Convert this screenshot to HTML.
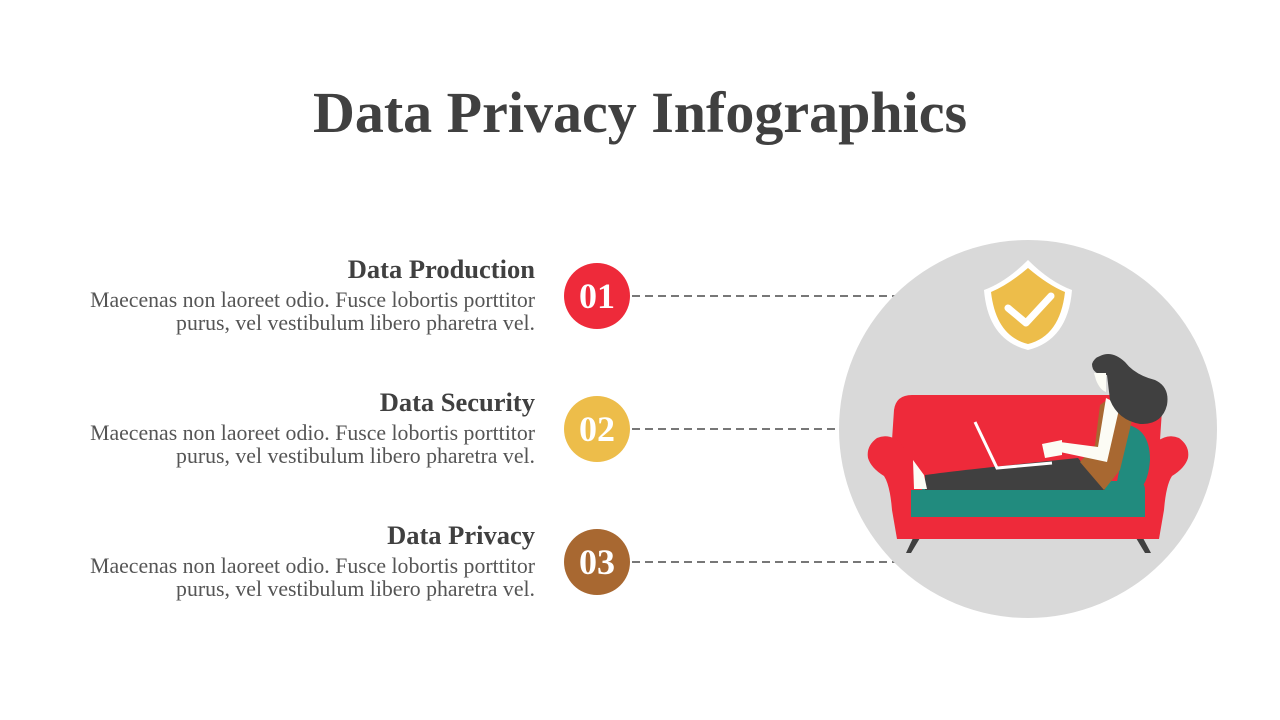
<!DOCTYPE html>
<html><head><meta charset="utf-8"><style>
body{margin:0;width:1280px;height:720px;background:#fff;position:relative;overflow:hidden;font-family:"Liberation Serif",serif;color:#404040}
h1{position:absolute;top:80px;left:0;width:1280px;text-align:center;margin:0;font-size:58px;font-weight:bold;line-height:66px;color:#404040}
.blk{position:absolute;right:745px;width:600px;text-align:right}
.blk h2{margin:0;font-size:26.5px;line-height:30px;font-weight:bold}
.blk p{margin:5px 0 0;font-size:21.8px;line-height:23px;color:#555}
.c{position:absolute;width:66px;height:66px;border-radius:50%;color:#fff;font-weight:bold;font-size:36px;line-height:66px;text-align:center;left:564px}
</style></head><body>
<h1>Data Privacy Infographics</h1>
<div class="blk" style="top:254px"><h2>Data Production</h2><p>Maecenas non laoreet odio. Fusce lobortis porttitor<br>purus, vel vestibulum libero pharetra vel.</p></div>
<div class="blk" style="top:387px"><h2>Data Security</h2><p>Maecenas non laoreet odio. Fusce lobortis porttitor<br>purus, vel vestibulum libero pharetra vel.</p></div>
<div class="blk" style="top:520px"><h2>Data Privacy</h2><p>Maecenas non laoreet odio. Fusce lobortis porttitor<br>purus, vel vestibulum libero pharetra vel.</p></div>
<div class="c" style="top:263px;background:#EE2A3A">01</div>
<div class="c" style="top:396px;background:#EDBD4A">02</div>
<div class="c" style="top:529px;background:#A86831">03</div>
<svg width="1280" height="720" style="position:absolute;left:0;top:0">
<g stroke="#777" stroke-width="2" stroke-dasharray="8,5">
<line x1="632" y1="296" x2="895" y2="296"/><line x1="632" y1="429" x2="840" y2="429"/><line x1="632" y1="562" x2="895" y2="562"/></g>
<circle cx="1028" cy="429" r="189" fill="#D9D9D9"/>
<path d="M1028 260 Q1050 282 1072 290 Q1068 340 1028 350 Q988 340 984 290 Q1006 282 1028 260Z" fill="#fff"/>
<path d="M1028 268 Q1048 285 1065 292 Q1060 336 1028 344 Q996 336 991 292 Q1008 285 1028 268Z" fill="#EDBD4A"/>
<path d="M1008 308 L1026 323 L1051 296" stroke="#fff" stroke-width="7" fill="none" stroke-linecap="round" stroke-linejoin="round"/>
<path d="M906 553 L913 538 L920 538 L911 553Z M1151 553 L1143 538 L1136 538 L1145 553Z" fill="#404040"/>
<path d="M912 395 L1150 395 Q1162 395 1162 410 L1160 440 L1155 535 Q1155 539 1150 539 L900 539 Q897 539 897 535 L892 440 L894 410 Q896 395 912 395Z" fill="#EE2A3A"/>
<path d="M900 442 Q888 433 877 438 Q866 446 868 458 Q871 468 884 476 Q890 485 892 510 L897 539 L912 539 L905 450Z" fill="#EE2A3A"/>
<path d="M1156 442 Q1168 433 1179 438 Q1190 446 1188 458 Q1185 468 1172 476 Q1166 485 1164 510 L1159 539 L1144 539 L1151 450Z" fill="#EE2A3A"/>
<path d="M1128 425 Q1150 430 1150 460 Q1148 487 1135 492 L1115 492 Z" fill="#218B7E"/>
<path d="M922 490 Q922 481 930 481 L1136 481 Q1145 481 1145 490 L1145 517 L911 517 L911 490Z" fill="#218B7E"/>
<path d="M925 475 Q960 470 1078 458 L1105 490 L925 490Z" fill="#404040"/>
<path d="M913 460 L924 475 L927 489 L914 489Z" fill="#fcfcf5"/>
<path d="M1107 400 L1132 420 L1120 470 L1104 490 L1080 462 L1095 445 L1100 405Z" fill="#A86831"/>
<path d="M1106 398 L1120 405 L1107 462 L1060 452 L1060 442 L1098 447Z" fill="#fcfcf5"/>
<path d="M1042 444 L1062 440 L1062 455 L1045 458Z" fill="#fcfcf5"/>
<path d="M975 422 L997 468 L1052 463" stroke="#fff" stroke-width="3" fill="none"/>
<path d="M1100 356 Q1112 350 1125 362 Q1135 375 1155 380 Q1170 387 1167 405 Q1162 425 1140 424 Q1118 420 1110 400 L1107 375 Q1092 375 1092 364 Q1094 358 1100 356Z" fill="#404040"/>
<path d="M1094 373 L1106 373 L1106 392 Q1100 390 1096 380Z" fill="#fcfcf5"/>
</svg>
</body></html>
